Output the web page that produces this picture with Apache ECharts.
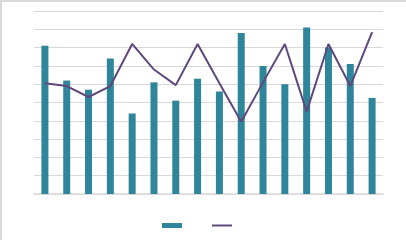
<!DOCTYPE html>
<html><head><meta charset="utf-8">
<script src="https://cdn.jsdelivr.net/npm/echarts@6/dist/echarts.min.js"></script>
<style>html,body{margin:0;padding:0;background:#fff}#c{width:406px;height:240px}</style>
</head><body><div id="c"></div>
<script>
var categories = ['1','2','3','4','5','6','7','8','9','10','11','12','13','14','15','16'];
var barValues = [8.1, 6.2, 5.7, 7.4, 4.4, 6.1, 5.1, 6.3, 5.6, 8.8, 7.0, 6.0, 9.1, 8.0, 7.1, 5.25];
var lineValues = [6.05, 5.9, 5.3, 5.9, 8.2, 6.8, 5.95, 8.2, 6.05, 3.95, 6.1, 8.2, 4.5, 8.2, 5.9, 8.85];
var seriesNames = ['A', 'B'];

var chart = echarts.init(document.getElementById('c'), null, {renderer: 'canvas'});
chart.setOption({
  animation: false,
  backgroundColor: '#fff',
  graphic: [{type: 'rect', shape: {x: 1, y: 1, width: 440, height: 280}, style: {fill: 'none', stroke: '#d9d9d9', lineWidth: 2}, silent: true}],
  grid: {left: 34, right: 23, top: 11, bottom: 46, containLabel: false},
  legend: {
    left: 157, top: 218, itemWidth: 20, itemHeight: 5, itemGap: 30,
    formatter: function () { return ''; },
    data: [
      {name: seriesNames[0], icon: 'rect'},
      {name: seriesNames[1], icon: 'path://M0,0H20V2H0Z'}
    ]
  },
  xAxis: {
    type: 'category', data: categories,
    axisLine: {lineStyle: {color: '#d9d9d9', width: 1.5}},
    axisTick: {show: false}, axisLabel: {show: false}
  },
  yAxis: {
    type: 'value', min: 0, max: 10, interval: 1,
    axisLine: {show: false}, axisTick: {show: false}, axisLabel: {show: false},
    splitLine: {lineStyle: {color: '#d9d9d9', width: 1}}
  },
  series: [
    {name: seriesNames[0], type: 'bar', data: barValues, barWidth: 7,
     itemStyle: {color: '#2f8599'}},
    {name: seriesNames[1], type: 'line', data: lineValues, symbol: 'none',
     lineStyle: {color: '#5e487c', width: 2}, itemStyle: {color: '#5e487c'}}
  ]
});
</script></body></html>
